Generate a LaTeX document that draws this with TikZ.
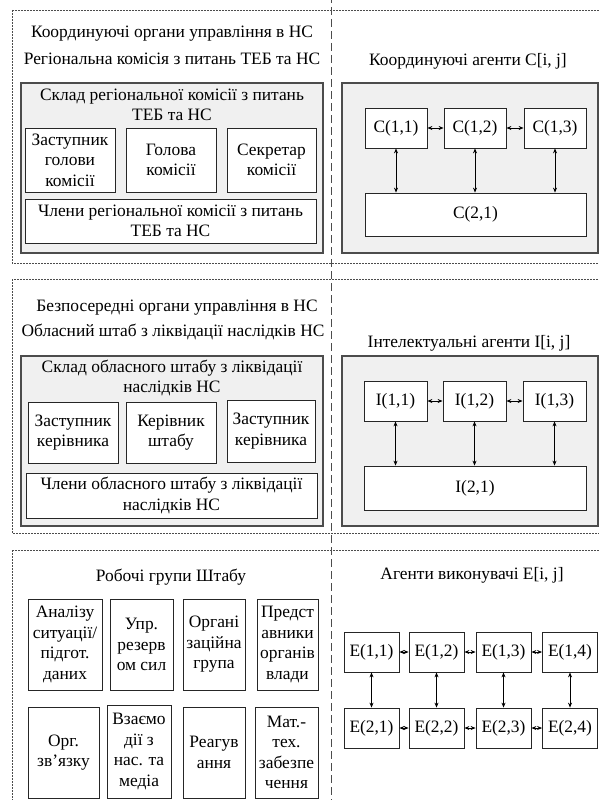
\documentclass[tikz,border=0pt]{standalone}
\usepackage{fontspec}
\setmainfont{Liberation Serif}
\usetikzlibrary{arrows.meta}

\begin{document}
\begin{tikzpicture}[
		x=1pt, y=-1pt,
		font=\fontsize{17.4}{20.5}\selectfont,
		zone/.style={draw=black!70, line width=0.7pt, dash pattern=on 2pt off 1pt},
		divider/.style={draw=black!70, line width=0.9pt, dash pattern=on 8pt off 4pt},
		panel/.style={draw=black!70, line width=1.2pt, fill=black!6, inner sep=0pt},
		box/.style={draw=black!85, line width=0.8pt, fill=white, align=center, inner sep=0pt},
		heading/.style={align=center, inner sep=0pt},
		link/.style={<->, >={Stealth[length=5pt, width=4pt]}, line width=0.8pt}
		]
		\useasboundingbox (0,0) rectangle (599,800);
		
		% Рамки рівнів
		\draw[zone] (12,10) rectangle (606,263);
		\draw[zone] (12,279) rectangle (606,533);
		\draw[zone] (12,550) rectangle (606,812);
		\draw[divider] (331,-5) -- (331,805);
		
		% Рівень 1 -- координуючі органи
		\node[heading] (titleA) at (172,34) {Координуючі органи управління в НС};
		\node[heading] (subA) at (172,59) {Регіональна комісія з питань ТЕБ та НС};
		\node[panel, minimum width=302, minimum height=170] (panelA) at (172,168) {};
		\node[heading] (skladA) at (172,105) {Склад регіональної комісії з питань\\ТЕБ та НС};
		\node[box, minimum width=90, minimum height=64] (zastA) at (70,160) {Заступник\\голови\\комісії};
		\node[box, minimum width=90, minimum height=64] (holA) at (171,160) {Голова\\комісії};
		\node[box, minimum width=89, minimum height=64] (sekA) at (271.5,160) {Секретар\\комісії};
		\node[box, minimum width=291, minimum height=44] (chlA) at (170.5,221) {Члени регіональної комісії з питань\\ТЕБ та НС};
		
		\node[heading] (titleC) at (468,61) {Координуючі агенти C[i, j]};
		\node[panel, minimum width=256, minimum height=170] (panelC) at (470,168) {};
		\node[box, minimum width=62, minimum height=40] (C11) at (396,128) {C(1,1)};
		\node[box, minimum width=62, minimum height=40] (C12) at (475,128) {C(1,2)};
		\node[box, minimum width=62, minimum height=40] (C13) at (555,128) {C(1,3)};
		\node[box, minimum width=221, minimum height=43] (C21) at (475.5,214.5) {C(2,1)};
		\draw[link] (C11) -- (C12);
		\draw[link] (C12) -- (C13);
		\foreach \j in {1,2,3}
			\draw[link] (C1\j.south) -- (C1\j.south |- C21.north);
		
		% Рівень 2 -- безпосередні органи
		\node[heading] (titleB) at (177,308) {Безпосередні органи управління в НС};
		\node[heading] (subB) at (173,332) {Обласний штаб з ліквідації наслідків НС};
		\node[panel, minimum width=302, minimum height=170] (panelB) at (172,441) {};
		\node[heading] (skladB) at (172,378) {Склад обласного штабу з ліквідації\\наслідків НС};
		\node[box, minimum width=90, minimum height=61] (zastB) at (73,432.5) {Заступник\\керівника};
		\node[box, minimum width=90, minimum height=61] (kerB) at (171,432.5) {Керівник\\штабу};
		\node[box, minimum width=88, minimum height=62] (zastBB) at (271,431) {Заступник\\керівника};
		\node[box, minimum width=291, minimum height=45] (chlB) at (171.5,495.5) {Члени обласного штабу з ліквідації\\наслідків НС};
		
		\node[heading] (titleI) at (469,343) {Інтелектуальні агенти I[i, j]};
		\node[panel, minimum width=256, minimum height=170] (panelI) at (470,441) {};
		\node[box, minimum width=63, minimum height=40] (I11) at (395.5,401) {I(1,1)};
		\node[box, minimum width=63, minimum height=40] (I12) at (474.5,401) {I(1,2)};
		\node[box, minimum width=63, minimum height=40] (I13) at (554.5,401) {I(1,3)};
		\node[box, minimum width=222, minimum height=44] (I21) at (475,488) {I(2,1)};
		\draw[link] (I11) -- (I12);
		\draw[link] (I12) -- (I13);
		\foreach \j in {1,2,3}
			\draw[link] (I1\j.south) -- (I1\j.south |- I21.north);
		
		% Рівень 3 -- робочі групи
		\node[heading] (titleW) at (171,577) {Робочі групи Штабу};
		\node[box, minimum width=74, minimum height=91] (W1) at (65,644.5) {Аналізу\\ситуації/\\підгот.\\даних};
		\node[box, minimum width=63, minimum height=91] (W2) at (141.5,644.5) {Упр.\\резерв\\ом сил};
		\node[box, minimum width=62, minimum height=91] (W3) at (214,644.5) {Органі\\заційна\\група};
		\node[box, minimum width=61, minimum height=91] (W4) at (287.5,644.5) {Предст\\авники\\органів\\влади};
		\node[box, minimum width=71, minimum height=91] (W5) at (63.5,752.5) {Орг.\\зв’язку};
		\node[box, minimum width=64, minimum height=93] (W6) at (139,751.5) {Взаємо\\дії з\\нас. та\\медіа};
		\node[box, minimum width=62, minimum height=91] (W7) at (214,752.5) {Реагув\\ання};
		\node[box, minimum width=63, minimum height=91] (W8) at (286.5,752.5) {Мат.-\\тех.\\забезпе\\чення};
		
		\node[heading] (titleE) at (472,575) {Агенти виконувачі E[i, j]};
		\foreach \j/\x in {1/371.5, 2/436.5, 3/503.5, 4/570}{
			\node[box, minimum width=55, minimum height=40] (E1\j) at (\x,652) {E(1,\j)};
			\node[box, minimum width=55, minimum height=40] (E2\j) at (\x,728) {E(2,\j)};
			\draw[link] (E1\j) -- (E2\j);
		}
		\foreach \i in {1,2}{
			\draw[link] (E\i1) -- (E\i2);
			\draw[link] (E\i2) -- (E\i3);
			\draw[link] (E\i3) -- (E\i4);
		}
	\end{tikzpicture}
\end{document}
